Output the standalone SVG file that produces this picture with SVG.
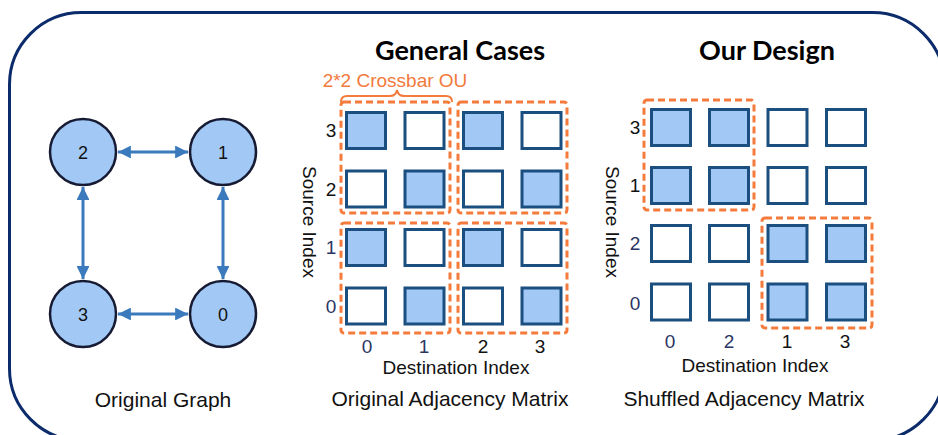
<svg xmlns="http://www.w3.org/2000/svg" width="938" height="435" viewBox="0 0 938 435">
  <style>
    .frame { fill: #ffffff; stroke: #0b2b6b; stroke-width: 3; }
    .node circle { fill: #a2c9f6; stroke: #161b33; stroke-width: 2.5; }
    .lbl { font-family: "Liberation Sans", Arial, sans-serif; fill: #111111; }
    .num { font-size: 18px; text-anchor: middle; }
    .cap { font-size: 21px; text-anchor: middle; }
    .axis { font-size: 19px; text-anchor: middle; }
    .tick { font-size: 19px; text-anchor: middle; }
    .navy { fill: #2b3563; }
    .title { font-family: Lato, "Liberation Sans", sans-serif; font-weight: bold; font-size: 27px; text-anchor: middle; fill: #000000; }
    .ou { font-family: "Liberation Sans", Arial, sans-serif; font-size: 19px; text-anchor: middle; fill: #f27a3c; }
    .cell { fill: #ffffff; stroke: #1b4f80; stroke-width: 3; }
    .on { fill: #a2c9f6; }
    .group { fill: none; stroke: #f47b3b; stroke-width: 3; stroke-dasharray: 7 4; }
    .edge { stroke: #3b7bbd; stroke-width: 3; fill: none; marker-start: url(#head); marker-end: url(#head); }
  </style>
  <defs>
    <marker id="head" viewBox="0 0 10 10" refX="10" refY="5" markerWidth="4.3" markerHeight="4.3" orient="auto-start-reverse" markerUnits="strokeWidth">
      <path d="M0,0 L10,5 L0,10 z" fill="#3b7bbd"/>
    </marker>
  </defs>

  <!-- outer rounded panel -->
  <rect class="frame" x="9.5" y="12.5" width="935" height="428" rx="72" ry="72"/>

  <!-- graph edges -->
  <g id="connectors">
    <line class="edge" x1="118" y1="152" x2="188" y2="152"/>
    <line class="edge" x1="118" y1="314" x2="188" y2="314"/>
    <line class="edge" x1="83" y1="187" x2="83" y2="279"/>
    <line class="edge" x1="223" y1="187" x2="223" y2="279"/>
  </g>

  <!-- graph vertices -->
  <g id="node-2" class="node">
    <circle cx="83" cy="152" r="33"/>
    <text class="lbl num" x="83" y="158.5">2</text>
  </g>
  <g id="node-1" class="node">
    <circle cx="223" cy="152" r="33"/>
    <text class="lbl num" x="223" y="158.5">1</text>
  </g>
  <g id="node-3" class="node">
    <circle cx="83" cy="314" r="33"/>
    <text class="lbl num" x="83" y="320.5">3</text>
  </g>
  <g id="node-0" class="node">
    <circle cx="223" cy="314" r="33"/>
    <text class="lbl num" x="223" y="320.5">0</text>
  </g>
  <text class="lbl cap" x="163" y="407">Original Graph</text>

  <!-- original adjacency matrix -->
  <g id="matrix-original">
    <text class="title" x="460" y="60">General Cases</text>
    <text class="ou" x="395" y="87">2*2 Crossbar OU</text>
    <path d="M341,102 Q341,96 347,96 L390,96 Q396,96 397,90 Q398,96 404,96 L446,96 Q452,96 452,102" fill="none" stroke="#f47b3b" stroke-width="2"/>

    <!-- row 3 -->
    <rect class="cell on" x="346.5" y="112.5" width="39" height="36"/>
    <rect class="cell" x="405" y="112.5" width="39" height="36"/>
    <rect class="cell on" x="463.5" y="112.5" width="39" height="36"/>
    <rect class="cell" x="522" y="112.5" width="39" height="36"/>
    <!-- row 2 -->
    <rect class="cell" x="346.5" y="171" width="39" height="36"/>
    <rect class="cell on" x="405" y="171" width="39" height="36"/>
    <rect class="cell" x="463.5" y="171" width="39" height="36"/>
    <rect class="cell on" x="522" y="171" width="39" height="36"/>
    <!-- row 1 -->
    <rect class="cell on" x="346.5" y="229.5" width="39" height="36"/>
    <rect class="cell" x="405" y="229.5" width="39" height="36"/>
    <rect class="cell on" x="463.5" y="229.5" width="39" height="36"/>
    <rect class="cell" x="522" y="229.5" width="39" height="36"/>
    <!-- row 0 -->
    <rect class="cell" x="346.5" y="288" width="39" height="36"/>
    <rect class="cell on" x="405" y="288" width="39" height="36"/>
    <rect class="cell" x="463.5" y="288" width="39" height="36"/>
    <rect class="cell on" x="522" y="288" width="39" height="36"/>

    <!-- 2x2 operation units -->
    <rect class="group" x="341" y="102" width="109" height="111" rx="3"/>
    <rect class="group" x="458" y="102" width="109" height="111" rx="3"/>
    <rect class="group" x="341" y="223" width="109" height="110" rx="3"/>
    <rect class="group" x="458" y="223" width="109" height="110" rx="3"/>

    <text class="lbl tick" x="331" y="137">3</text>
    <text class="lbl tick" x="331" y="196">2</text>
    <text class="lbl tick navy" x="331" y="254">1</text>
    <text class="lbl tick navy" x="331" y="313">0</text>
    <text class="lbl tick navy" x="367" y="353">0</text>
    <text class="lbl tick navy" x="424" y="353">1</text>
    <text class="lbl tick" x="483" y="353">2</text>
    <text class="lbl tick" x="540" y="353">3</text>
    <text class="lbl axis" x="456" y="374">Destination Index</text>
    <text class="lbl axis" transform="translate(303,222) rotate(90)">Source Index</text>
    <text class="lbl cap" x="450" y="406">Original Adjacency Matrix</text>
  </g>

  <!-- shuffled adjacency matrix -->
  <g id="matrix-shuffled">
    <text class="title" x="767" y="60">Our Design</text>

    <!-- row 3 -->
    <rect class="cell on" x="651.5" y="109.5" width="39" height="36"/>
    <rect class="cell on" x="709.5" y="109.5" width="39" height="36"/>
    <rect class="cell" x="768" y="109.5" width="39" height="36"/>
    <rect class="cell" x="826.5" y="109.5" width="39" height="36"/>
    <!-- row 1 -->
    <rect class="cell on" x="651.5" y="167.5" width="39" height="36"/>
    <rect class="cell on" x="709.5" y="167.5" width="39" height="36"/>
    <rect class="cell" x="768" y="167.5" width="39" height="36"/>
    <rect class="cell" x="826.5" y="167.5" width="39" height="36"/>
    <!-- row 2 -->
    <rect class="cell" x="651.5" y="225.5" width="39" height="36"/>
    <rect class="cell" x="709.5" y="225.5" width="39" height="36"/>
    <rect class="cell on" x="768" y="225.5" width="39" height="36"/>
    <rect class="cell on" x="826.5" y="225.5" width="39" height="36"/>
    <!-- row 0 -->
    <rect class="cell" x="651.5" y="284" width="39" height="36"/>
    <rect class="cell" x="709.5" y="284" width="39" height="36"/>
    <rect class="cell on" x="768" y="284" width="39" height="36"/>
    <rect class="cell on" x="826.5" y="284" width="39" height="36"/>

    <rect class="group" x="644" y="100" width="110" height="110" rx="3"/>
    <rect class="group" x="762" y="218" width="110" height="110" rx="3"/>

    <text class="lbl tick" x="635" y="134">3</text>
    <text class="lbl tick" x="635" y="192">1</text>
    <text class="lbl tick navy" x="635" y="250">2</text>
    <text class="lbl tick navy" x="635" y="310">0</text>
    <text class="lbl tick navy" x="670" y="348">0</text>
    <text class="lbl tick navy" x="729" y="348">2</text>
    <text class="lbl tick" x="787" y="348">1</text>
    <text class="lbl tick" x="845" y="348">3</text>
    <text class="lbl axis" x="755" y="372">Destination Index</text>
    <text class="lbl axis" transform="translate(606,222) rotate(90)">Source Index</text>
    <text class="lbl cap" x="744" y="406">Shuffled Adjacency Matrix</text>
  </g>
</svg>
